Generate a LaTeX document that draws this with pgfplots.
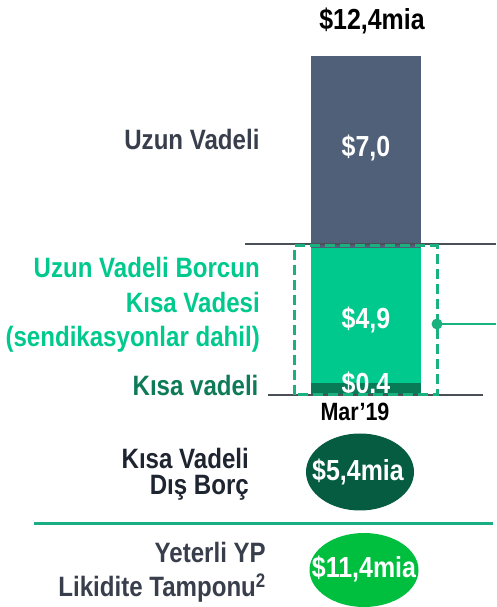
\documentclass[border=0pt]{standalone}
\usepackage{fontspec}
\setmainfont[FakeStretch=0.86]{Liberation Sans}
\usepackage{pgfplots}
\pgfplotsset{compat=1.18}
\definecolor{slate}{HTML}{506079}
\definecolor{brgreen}{HTML}{00C98E}
\definecolor{dkseg}{HTML}{087A55}
\definecolor{dashgreen}{HTML}{19B27F}
\definecolor{txtgreen}{HTML}{00C98E}
\definecolor{txtdkgreen}{HTML}{0E7A57}
\definecolor{graytxt}{HTML}{383E4B}
\definecolor{darktxt}{HTML}{1E2430}
\definecolor{ell1}{HTML}{055C40}
\definecolor{ell2}{HTML}{00BF3F}
\definecolor{sepline}{HTML}{1AAE85}
\definecolor{axline}{HTML}{4A4F58}
\begin{document}
\begin{tikzpicture}
\path[use as bounding box] (0pt,0pt) rectangle (496pt,607pt);
\begin{axis}[
  at={(0pt,213pt)}, anchor=south west,
  scale only axis, width=496pt, height=341pt,
  xmin=0, xmax=496, ymin=0, ymax=12.4,
  hide axis, clip=false,
  ybar stacked, bar width=110pt,
]
\addplot[fill=dkseg, draw=none] coordinates {(366,0.4)};
\addplot[fill=brgreen, draw=none] coordinates {(366,4.9)};
\addplot[fill=slate, draw=none] coordinates {(366,7.0)};
\end{axis}
\begin{scope}[x=1pt,y=1pt]
\tikzset{lbl/.style={font=\bfseries\fontsize{28}{32}\selectfont}, val/.style={text=white,font=\bfseries\fontsize{29}{33}\selectfont}}
% bar values
\node[val] at (366,459) {\$7,0};
\node[val] at (366,287) {\$4,9};
\node[val] at (366,223) {\$0.4};
% lines
\draw[axline, line width=1.5pt] (245,363) -- (496,363);
\draw[axline, line width=1.5pt] (268,212) -- (483,212);
\draw[dashgreen, line width=3pt, dash pattern=on 10pt off 5pt] (294,212) rectangle (437,361);
\draw[dashgreen, line width=2pt] (437,283) -- (496,283);
\fill[dashgreen] (437,283) circle (5.5);
% top total
\node[font=\bfseries\fontsize{29}{33}\selectfont, text=black] at (372,586) {\$12,4mia};
% left labels
\node[anchor=east, lbl, text=graytxt] at (263,467) {Uzun Vadeli};
\node[anchor=east, align=right, inner sep=2pt, font=\bfseries\fontsize{28}{34.5}\selectfont, text=txtgreen] at (262,302) {Uzun Vadeli Borcun\\Kısa Vadesi\\(sendikasyonlar dahil)};
\node[anchor=east, lbl, text=txtdkgreen] at (262,222) {Kısa vadeli};
% category
\node[font=\bfseries\fontsize{25}{29}\selectfont, text=black] at (355,195) {Mar’19};
% bottom section
\fill[ell1] (360,135) ellipse (54 and 38.5);
\node[val] at (358,135) {\$5,4mia};
\node[anchor=east, align=right, inner sep=2pt, font=\bfseries\fontsize{28}{26}\selectfont, text=darktxt] at (251,132.5) {Kısa Vadeli\\Dış Borç};
\draw[sepline, line width=3pt] (34,83) -- (493,83);
\fill[ell2] (364,37) ellipse (54.5 and 37);
\node[val] at (364,38) {\$11,4mia};
\node[anchor=east, align=right, inner sep=2pt, font=\bfseries\fontsize{28}{34}\selectfont, text=graytxt] at (268,35) {Yeterli YP\\Likidite Tamponu\textsuperscript{2}};
\end{scope}
\end{tikzpicture}
\end{document}
